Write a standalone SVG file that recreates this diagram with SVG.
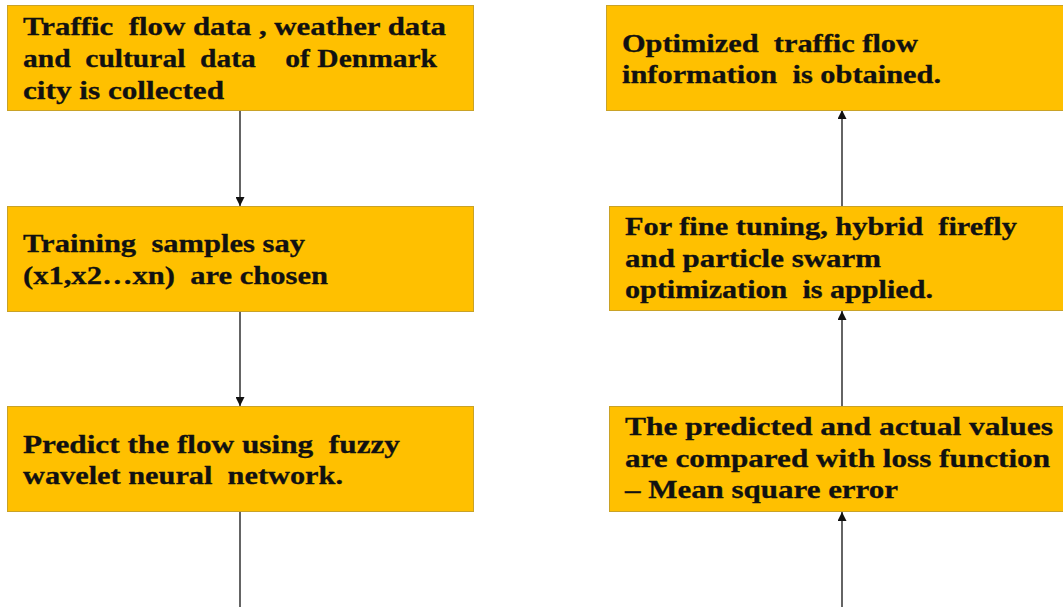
<svg xmlns="http://www.w3.org/2000/svg" width="1063" height="607" viewBox="0 0 1063 607" xml:space="preserve">
<style>
.box{fill:#FFC000;stroke:#C9A227;stroke-width:1}
.t{font-family:"Times New Roman","Liberation Serif",Tinos,serif;font-weight:bold;font-size:26px;fill:#111;stroke:#111;stroke-width:0.3;white-space:pre}
.c{stroke:#111;stroke-width:1.3;fill:none}
</style>
<defs>
<marker id="ah" viewBox="0 0 10 10" refX="10" refY="5" markerWidth="9" markerHeight="9" markerUnits="userSpaceOnUse" orient="auto">
<path d="M0,0 L10,5 L0,10 z" fill="#111"/>
</marker>
</defs>
<rect width="1063" height="607" fill="#fff"/>
<g id="connectors">
<line class="c" x1="240" y1="111" x2="240" y2="206" marker-end="url(#ah)"/>
<line class="c" x1="240" y1="312" x2="240" y2="406" marker-end="url(#ah)"/>
<line class="c" x1="240" y1="512" x2="240" y2="607"/>
<line class="c" x1="842" y1="607" x2="842" y2="512" marker-end="url(#ah)"/>
<line class="c" x1="842" y1="406" x2="842" y2="311" marker-end="url(#ah)"/>
<line class="c" x1="842" y1="206" x2="842" y2="110" marker-end="url(#ah)"/>
</g>
<g id="n1">
<rect class="box" x="7.5" y="5.5" width="466" height="105"/>
<text class="t" x="23" y="35" textLength="423" lengthAdjust="spacingAndGlyphs">Traffic  flow data , weather data</text>
<text class="t" x="23" y="67" textLength="414" lengthAdjust="spacingAndGlyphs">and  cultural  data    of Denmark</text>
<text class="t" x="23" y="99" textLength="201" lengthAdjust="spacingAndGlyphs">city is collected</text>
</g>
<g id="n2">
<rect class="box" x="7.5" y="206.5" width="466" height="105"/>
<text class="t" x="23" y="252" textLength="282" lengthAdjust="spacingAndGlyphs">Training  samples say</text>
<text class="t" x="23" y="284" textLength="305" lengthAdjust="spacingAndGlyphs">(x1,x2…xn)  are chosen</text>
</g>
<g id="n3">
<rect class="box" x="7.5" y="406.5" width="466" height="105"/>
<text class="t" x="23" y="453" textLength="377" lengthAdjust="spacingAndGlyphs">Predict the flow using  fuzzy</text>
<text class="t" x="23" y="484" textLength="320" lengthAdjust="spacingAndGlyphs">wavelet neural  network.</text>
</g>
<g id="n4">
<rect class="box" x="606.5" y="5.5" width="470" height="105"/>
<text class="t" x="622" y="52" textLength="296" lengthAdjust="spacingAndGlyphs">Optimized  traffic flow</text>
<text class="t" x="622" y="83" textLength="319" lengthAdjust="spacingAndGlyphs">information  is obtained.</text>
</g>
<g id="n5">
<rect class="box" x="609.5" y="206.5" width="470" height="104"/>
<text class="t" x="625" y="235" textLength="392" lengthAdjust="spacingAndGlyphs">For fine tuning, hybrid  firefly</text>
<text class="t" x="625" y="267" textLength="256" lengthAdjust="spacingAndGlyphs">and particle swarm</text>
<text class="t" x="625" y="298" textLength="308" lengthAdjust="spacingAndGlyphs">optimization  is applied.</text>
</g>
<g id="n6">
<rect class="box" x="609.5" y="406.5" width="470" height="105"/>
<text class="t" x="625" y="435" textLength="428" lengthAdjust="spacingAndGlyphs">The predicted and actual values</text>
<text class="t" x="625" y="467" textLength="425" lengthAdjust="spacingAndGlyphs">are compared with loss function</text>
<text class="t" x="625" y="498" textLength="273" lengthAdjust="spacingAndGlyphs">– Mean square error</text>
</g>
</svg>
